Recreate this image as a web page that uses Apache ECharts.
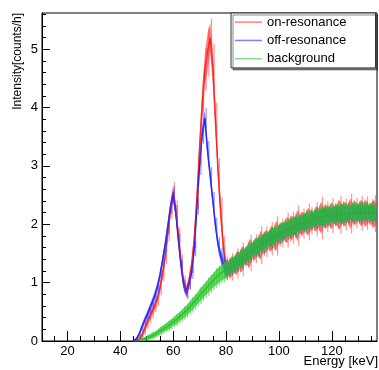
<!DOCTYPE html>
<html><head><meta charset="utf-8">
<script src="https://cdn.jsdelivr.net/npm/echarts@6/dist/echarts.min.js"></script>
<style>html,body{margin:0;padding:0;background:#fff}#c{width:379px;height:370px}</style>
</head><body><div id="c"></div>
<script>
const energy = [45,46,47,48,49,50,51,52,53,54,55,56,57,58,59,60,61,62,63,64,65,66,67,68,69,70,71,72,73,74,75,76,77,78,79,80,
81,82,83,84,85,86,87,88,89,90,91,92,93,94,95,96,97,98,99,100,101,102,103,104,105,106,107,108,109,110,
111,112,113,114,115,116,117,118,119,120,121,122,123,124,125,126,127,128,129,130,131,132,133,134,135,136,137];

const onResonance = [0,0,0.02,0.08,0.18,0.30,0.40,0.50,0.60,0.72,0.90,1.15,1.45,1.85,2.25,2.55,2.25,1.80,1.35,1.00,
0.86,1.02,1.30,1.75,2.45,3.30,4.05,4.65,4.95,5.20,4.70,3.80,2.90,2.20,1.60,1.25,
1.24,1.27,1.30,1.33,1.37,1.40,1.44,1.47,1.51,1.54,1.58,1.60,1.64,1.66,1.70,1.72,1.75,1.77,1.80,1.82,
1.85,1.87,1.90,1.92,1.94,1.96,1.98,2.00,2.01,2.03,2.04,2.06,2.07,2.09,2.10,2.11,2.12,2.13,2.14,2.15,
2.15,2.16,2.16,2.17,2.17,2.18,2.18,2.19,2.19,2.19,2.19,2.19,2.19,2.18,2.18,2.18,2.17];
const onResonanceErr = [0.02,0.02,0.03,0.05,0.06,0.07,0.07,0.08,0.08,0.09,
0.09,0.10,0.10,0.11,0.12,0.13,0.12,0.11,0.10,0.09,
0.09,0.10,0.11,0.12,0.15,0.20,0.30,0.28,0.32,0.25,
0.30,0.22,0.18,0.20,0.15,0.15,
0.14,0.18,0.12,0.20,0.15,0.22,0.13,0.17,0.24,0.14,
0.19,0.13,0.25,0.16,0.20,0.14,0.22,0.17,0.26,0.15,
0.19,0.13,0.23,0.17,0.21,0.14,0.27,0.16,0.20,0.15,
0.24,0.18,0.14,0.22,0.17,0.28,0.15,0.20,0.16,0.23,
0.14,0.19,0.25,0.16,0.21,0.15,0.26,0.17,0.20,0.14,
0.23,0.18,0.22,0.15,0.19,0.24,0.17];

const offResonance = [0,0.03,0.10,0.22,0.33,0.43,0.54,0.65,0.77,0.92,1.12,1.38,1.65,1.97,2.30,2.50,2.20,1.72,1.28,0.95,
0.82,0.98,1.18,1.58,2.30,3.00,3.55,3.82,3.27,2.84,2.41,1.98,1.65,1.45,1.32,1.22,
1.25,1.28,1.31,1.35,1.38,1.42,1.45,1.49,1.52,1.56,1.59,1.62,1.65,1.68,1.71,1.74,1.76,1.79,1.81,1.84,
1.86,1.89,1.91,1.93,1.95,1.97,1.99,2.01,2.02,2.04,2.05,2.07,2.08,2.10,2.11,2.12,2.13,2.14,2.15,2.16,
2.16,2.17,2.17,2.18,2.18,2.19,2.19,2.20,2.20,2.20,2.20,2.20,2.20,2.20,2.19,2.19,2.18];
const offResonanceErr = [0.02,0.03,0.04,0.05,0.06,0.06,0.07,0.07,0.08,0.08,
0.08,0.09,0.09,0.10,0.10,0.11,0.10,0.09,0.08,0.08,
0.08,0.08,0.09,0.10,0.11,0.12,0.13,0.13,0.12,0.11,
0.11,0.10,0.10,0.11,0.12,0.12,
0.10,0.12,0.11,0.13,0.10,0.14,0.11,0.12,0.13,0.10,
0.12,0.14,0.11,0.13,0.12,0.10,0.14,0.12,0.11,0.13,
0.12,0.14,0.11,0.13,0.12,0.15,0.11,0.13,0.12,0.14,
0.12,0.13,0.11,0.14,0.12,0.13,0.15,0.12,0.13,0.11,
0.14,0.12,0.13,0.15,0.12,0.13,0.11,0.14,0.12,0.13,
0.14,0.12,0.13,0.11,0.14,0.12,0.13];

const background = [0,0,0,0.02,0.03,0.05,0.07,0.09,0.11,0.14,0.17,0.20,0.23,0.26,0.29,0.33,0.36,0.40,0.44,0.48,
0.52,0.57,0.62,0.67,0.72,0.78,0.83,0.88,0.93,0.98,1.03,1.08,1.12,1.16,1.19,1.22,
1.26,1.29,1.32,1.36,1.39,1.43,1.46,1.50,1.53,1.57,1.60,1.63,1.66,1.69,1.72,1.75,1.77,1.80,1.82,1.85,
1.87,1.90,1.92,1.94,1.96,1.98,2.00,2.02,2.03,2.05,2.06,2.08,2.09,2.11,2.12,2.13,2.14,2.15,2.16,2.17,
2.17,2.18,2.18,2.19,2.19,2.20,2.20,2.21,2.21,2.21,2.21,2.21,2.21,2.21,2.20,2.20,2.19];
const backgroundErr = [0.01,0.02,0.02,0.03,0.03,0.04,0.04,0.05,0.05,0.05,
0.06,0.06,0.06,0.07,0.07,0.07,0.08,0.08,0.08,0.09,
0.09,0.09,0.10,0.10,0.10,0.11,0.11,0.11,0.12,0.12,
0.12,0.13,0.13,0.13,0.14,0.14,
0.11,0.13,0.12,0.14,0.11,0.15,0.12,0.13,0.14,0.12,
0.13,0.15,0.12,0.14,0.13,0.12,0.15,0.13,0.12,0.14,
0.13,0.15,0.12,0.14,0.13,0.16,0.12,0.14,0.13,0.15,
0.13,0.14,0.12,0.15,0.13,0.14,0.16,0.13,0.14,0.12,
0.15,0.13,0.14,0.16,0.13,0.14,0.12,0.15,0.13,0.14,
0.15,0.13,0.14,0.12,0.15,0.13,0.14];

const xMajor = [20,40,60,80,100,120];
const xMinor = [15,25,30,35,45,50,55,65,70,75,85,90,95,105,110,115,125,130,135];
const yMajor = [0,1,2,3,4,5];
const yMinor = [0.2,0.4,0.6,0.8,1.2,1.4,1.6,1.8,2.2,2.4,2.6,2.8,3.2,3.4,3.6,3.8,4.2,4.4,4.6,4.8,5.2,5.4,5.6];
const seriesNames = ['on-resonance','off-resonance','background'];

const FONT = '"Liberation Sans", Arial, Helvetica, sans-serif';
function pts(vals, errs){ return energy.map((e,i)=>[e, vals[i], errs ? errs[i] : 0]); }

// whole error band as one polygon, plus thin error-bar spikes per bin
function bandRender(vals, errs, fill, spike){
  return function(params, api){
    if (params.dataIndex !== 0) return null;
    const upper = [], lower = [];
    const bars = [];
    for (let i = 0; i < energy.length; i++) {
      if (vals[i] <= 0 && (i + 1 >= vals.length || vals[i+1] <= 0)) continue;
      const hi = api.coord([energy[i], vals[i] + errs[i]]);
      const lo = api.coord([energy[i], Math.max(0, vals[i] - errs[i])]);
      upper.push(hi); lower.push(lo);
      const hi2 = api.coord([energy[i] + 0.5, vals[i] + errs[i] * 1.3]);
      const lo2 = api.coord([energy[i] + 0.5, Math.max(0, vals[i] - errs[i] * 1.3)]);
      bars.push({type:'line', shape:{x1:hi2[0], y1:hi2[1], x2:lo2[0], y2:lo2[1]},
                 style:{stroke: spike, lineWidth:1.2}});
    }
    const poly = upper.concat(lower.reverse());
    return {type:'group', children:[{type:'polygon', shape:{points: poly}, style:{fill: fill}}].concat(bars)};
  };
}
const palette = [
  {band:'rgba(255,40,40,0.6)', spike:'rgba(255,60,60,0.55)', line:'rgba(235,0,0,0.85)', leg:'#ff8080'},
  {band:'rgba(40,40,255,0.6)', spike:'rgba(60,60,255,0.55)', line:'rgba(0,0,235,0.85)', leg:'#8080ff'},
  {band:'rgba(40,200,40,0.72)', spike:'rgba(40,200,40,0.6)', line:'rgba(0,165,20,0.8)', leg:'#80e080'}
];
const vals = [onResonance, offResonance, background];
const errs = [onResonanceErr, offResonanceErr, backgroundErr];
const series = [];
for (let k = 0; k < 3; k++) {
  series.push({type:'line', name: seriesNames[k], xAxisIndex:0, yAxisIndex:0, data: pts(vals[k]), z:1,
    showSymbol:false, lineStyle:{width:1.5, color: palette[k].line}, itemStyle:{color: palette[k].leg}, silent:true});
}
for (let k = 0; k < 3; k++) {
  series.push({type:'custom', name: seriesNames[k] + ' band', xAxisIndex:0, yAxisIndex:0, z:2,
    renderItem: bandRender(vals[k], errs[k], palette[k].band, palette[k].spike),
    data: pts(vals[k], errs[k]), encode:{x:0, y:1}, clip:true, silent:true});
}

const chart = echarts.init(document.getElementById('c'), null, {renderer:'canvas'});
chart.setOption({
  animation:false,
  backgroundColor:'#fff',
  textStyle:{fontFamily: FONT},
  grid:{left:42, top:13, right:2, bottom:29, show:true, borderColor:'#000', borderWidth:1, backgroundColor:'transparent'},
  xAxis:[
    {type:'value', min:10.4, max:137.1, position:'bottom',
     axisLine:{show:true, lineStyle:{color:'#000', width:1}},
     axisTick:{show:true, inside:true, length:10, customValues:xMajor, lineStyle:{color:'#000'}},
     axisLabel:{show:true, customValues:xMajor, fontSize:13, color:'#000', margin:4, fontFamily:FONT},
     splitLine:{show:false}},
    {type:'value', min:10.4, max:137.1, position:'bottom', offset:0,
     axisLine:{show:false},
     axisTick:{show:true, inside:true, length:5, customValues:xMinor, lineStyle:{color:'#000'}},
     axisLabel:{show:false}, splitLine:{show:false}}
  ],
  yAxis:[
    {type:'value', min:0, max:5.62, position:'left',
     axisLine:{show:true, lineStyle:{color:'#000', width:1}},
     axisTick:{show:true, inside:true, length:8, customValues:yMajor, lineStyle:{color:'#000'}},
     axisLabel:{show:true, customValues:yMajor, fontSize:13, color:'#000', margin:4, fontFamily:FONT},
     splitLine:{show:false}},
    {type:'value', min:0, max:5.62, position:'left', offset:0,
     axisLine:{show:false},
     axisTick:{show:true, inside:true, length:4, customValues:yMinor, lineStyle:{color:'#000'}},
     axisLabel:{show:false}, splitLine:{show:false}}
  ],
  legend:{
    left:231, top:13, orient:'vertical', padding:[0,29,0,4], itemGap:0,
    itemWidth:27, itemHeight:1.5, icon:'rect',
    backgroundColor:'#fff', borderColor:'#333', borderWidth:1,
    shadowColor:'rgba(0,0,0,0.45)', shadowOffsetX:2, shadowOffsetY:2, shadowBlur:0,
    textStyle:{fontSize:13, color:'#000', lineHeight:18.3, fontFamily:FONT},
    data: seriesNames.map((n,k)=>({name:n, icon:'rect', itemStyle:{color: palette[k].leg}}))
  },
  graphic:[
    {type:'text', right:1, top:355, style:{text:'Energy [keV]', font:'13px ' + FONT, fill:'#000'}},
    {type:'text', x:18, y:13, rotation:Math.PI/2,
     style:{text:'Intensity[counts/h]', font:'12px ' + FONT, fill:'#000', align:'right', verticalAlign:'middle'}}
  ],
  series: series
});
</script>
</body></html>
